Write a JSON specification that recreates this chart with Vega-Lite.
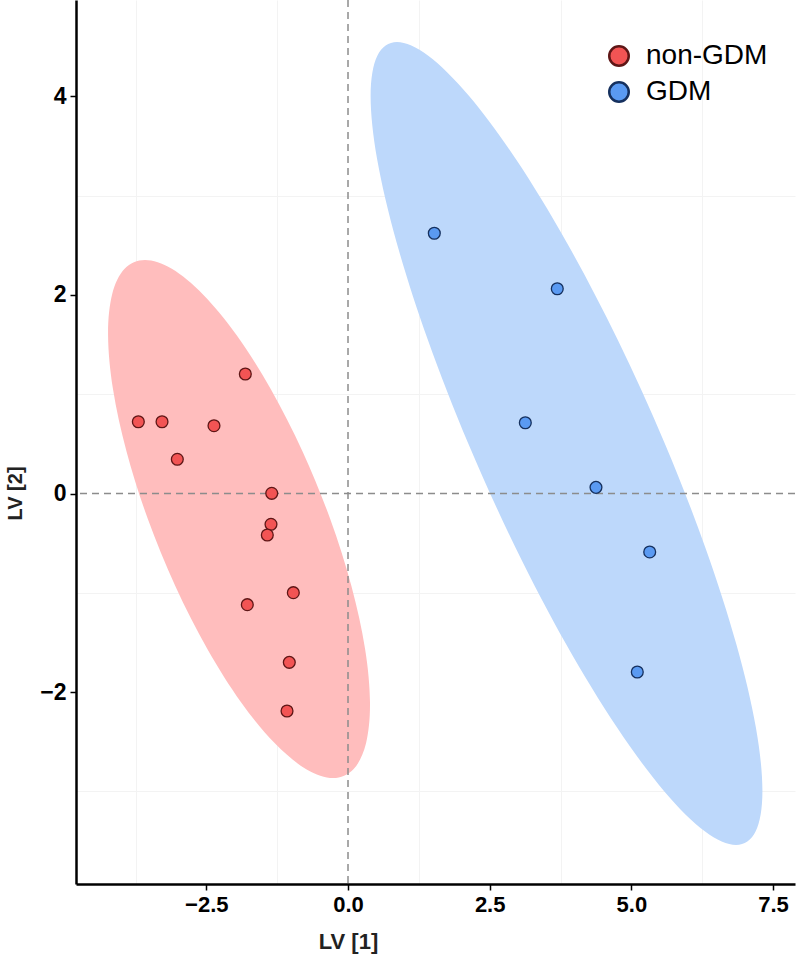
{
  "$schema": "https://vega.github.io/schema/vega-lite/v6.json",
  "width": 719,
  "height": 884,
  "autosize": {"type": "none"},
  "padding": {"left": 76, "top": 0, "right": 2, "bottom": 77},
  "background": "white",
  "config": {"view": {"stroke": null}},
  "datasets": {
    "points": [
      {"group": "non-GDM", "lv1": -1.812, "lv2": 1.204},
      {"group": "non-GDM", "lv1": -3.700, "lv2": 0.723},
      {"group": "non-GDM", "lv1": -3.282, "lv2": 0.723},
      {"group": "non-GDM", "lv1": -2.365, "lv2": 0.683},
      {"group": "non-GDM", "lv1": -3.012, "lv2": 0.345},
      {"group": "non-GDM", "lv1": -1.346, "lv2": 0.002},
      {"group": "non-GDM", "lv1": -1.359, "lv2": -0.310},
      {"group": "non-GDM", "lv1": -1.424, "lv2": -0.418},
      {"group": "non-GDM", "lv1": -0.965, "lv2": -0.999},
      {"group": "non-GDM", "lv1": -1.777, "lv2": -1.120},
      {"group": "non-GDM", "lv1": -1.036, "lv2": -1.701},
      {"group": "non-GDM", "lv1": -1.076, "lv2": -2.191},
      {"group": "GDM", "lv1": 1.523, "lv2": 2.622},
      {"group": "GDM", "lv1": 3.693, "lv2": 2.063},
      {"group": "GDM", "lv1": 3.129, "lv2": 0.713},
      {"group": "GDM", "lv1": 4.376, "lv2": 0.062},
      {"group": "GDM", "lv1": 5.324, "lv2": -0.589},
      {"group": "GDM", "lv1": 5.105, "lv2": -1.798}
    ],
    "ellipse": [
      {"group": "non-GDM", "i": 0, "lv1": -0.314, "lv2": -0.257},
      {"group": "non-GDM", "i": 1, "lv1": 0.060, "lv2": -0.932},
      {"group": "non-GDM", "i": 2, "lv1": 0.300, "lv2": -1.562},
      {"group": "non-GDM", "i": 3, "lv1": 0.388, "lv2": -2.103},
      {"group": "non-GDM", "i": 4, "lv1": 0.318, "lv2": -2.517},
      {"group": "non-GDM", "i": 5, "lv1": 0.096, "lv2": -2.778},
      {"group": "non-GDM", "i": 6, "lv1": -0.264, "lv2": -2.867},
      {"group": "non-GDM", "i": 7, "lv1": -0.737, "lv2": -2.778},
      {"group": "non-GDM", "i": 8, "lv1": -1.291, "lv2": -2.517},
      {"group": "non-GDM", "i": 9, "lv1": -1.888, "lv2": -2.103},
      {"group": "non-GDM", "i": 10, "lv1": -2.487, "lv2": -1.562},
      {"group": "non-GDM", "i": 11, "lv1": -3.048, "lv2": -0.932},
      {"group": "non-GDM", "i": 12, "lv1": -3.532, "lv2": -0.257},
      {"group": "non-GDM", "i": 13, "lv1": -3.906, "lv2": 0.419},
      {"group": "non-GDM", "i": 14, "lv1": -4.146, "lv2": 1.048},
      {"group": "non-GDM", "i": 15, "lv1": -4.234, "lv2": 1.589},
      {"group": "non-GDM", "i": 16, "lv1": -4.164, "lv2": 2.003},
      {"group": "non-GDM", "i": 17, "lv1": -3.942, "lv2": 2.264},
      {"group": "non-GDM", "i": 18, "lv1": -3.582, "lv2": 2.353},
      {"group": "non-GDM", "i": 19, "lv1": -3.109, "lv2": 2.264},
      {"group": "non-GDM", "i": 20, "lv1": -2.555, "lv2": 2.003},
      {"group": "non-GDM", "i": 21, "lv1": -1.958, "lv2": 1.589},
      {"group": "non-GDM", "i": 22, "lv1": -1.359, "lv2": 1.048},
      {"group": "non-GDM", "i": 23, "lv1": -0.798, "lv2": 0.419},
      {"group": "GDM", "i": 0, "lv1": 5.590, "lv2": 0.504},
      {"group": "GDM", "i": 1, "lv1": 6.305, "lv2": -0.543},
      {"group": "GDM", "i": 2, "lv1": 6.853, "lv2": -1.519},
      {"group": "GDM", "i": 3, "lv1": 7.197, "lv2": -2.356},
      {"group": "GDM", "i": 4, "lv1": 7.313, "lv2": -2.999},
      {"group": "GDM", "i": 5, "lv1": 7.194, "lv2": -3.403},
      {"group": "GDM", "i": 6, "lv1": 6.847, "lv2": -3.541},
      {"group": "GDM", "i": 7, "lv1": 6.296, "lv2": -3.403},
      {"group": "GDM", "i": 8, "lv1": 5.579, "lv2": -2.999},
      {"group": "GDM", "i": 9, "lv1": 4.745, "lv2": -2.356},
      {"group": "GDM", "i": 10, "lv1": 3.850, "lv2": -1.519},
      {"group": "GDM", "i": 11, "lv1": 2.955, "lv2": -0.543},
      {"group": "GDM", "i": 12, "lv1": 2.122, "lv2": 0.504},
      {"group": "GDM", "i": 13, "lv1": 1.407, "lv2": 1.551},
      {"group": "GDM", "i": 14, "lv1": 0.859, "lv2": 2.527},
      {"group": "GDM", "i": 15, "lv1": 0.515, "lv2": 3.364},
      {"group": "GDM", "i": 16, "lv1": 0.399, "lv2": 4.007},
      {"group": "GDM", "i": 17, "lv1": 0.518, "lv2": 4.411},
      {"group": "GDM", "i": 18, "lv1": 0.865, "lv2": 4.549},
      {"group": "GDM", "i": 19, "lv1": 1.416, "lv2": 4.411},
      {"group": "GDM", "i": 20, "lv1": 2.133, "lv2": 4.007},
      {"group": "GDM", "i": 21, "lv1": 2.967, "lv2": 3.364},
      {"group": "GDM", "i": 22, "lv1": 3.862, "lv2": 2.527},
      {"group": "GDM", "i": 23, "lv1": 4.757, "lv2": 1.551}
    ],
    "zeroX": [{"lv1": 0}],
    "zeroY": [{"lv2": 0}]
  },
  "layer": [
    {
      "data": {"name": "ellipse"},
      "transform": [{"filter": "datum.group == 'non-GDM'"}],
      "mark": {"type": "line", "fill": "#FFBDBD", "stroke": null, "strokeWidth": 0, "interpolate": "cardinal-closed"},
      "encoding": {
        "x": {"field": "lv1", "type": "quantitative", "scale": {"domain": [-4.8, 7.888], "nice": false, "zero": false}},
        "y": {"field": "lv2", "type": "quantitative", "scale": {"domain": [-3.934, 4.972], "nice": false, "zero": false}},
        "order": {"field": "i", "type": "quantitative"}
      }
    },
    {
      "data": {"name": "ellipse"},
      "transform": [{"filter": "datum.group == 'GDM'"}],
      "mark": {"type": "line", "fill": "#BDD8FB", "stroke": null, "strokeWidth": 0, "interpolate": "cardinal-closed"},
      "encoding": {
        "x": {"field": "lv1", "type": "quantitative", "scale": {"domain": [-4.8, 7.888], "nice": false, "zero": false}},
        "y": {"field": "lv2", "type": "quantitative", "scale": {"domain": [-3.934, 4.972], "nice": false, "zero": false}},
        "order": {"field": "i", "type": "quantitative"}
      }
    },
    {
      "data": {"name": "zeroX"},
      "mark": {"type": "rule", "color": "#8c8c8c", "strokeWidth": 1.5, "strokeDash": [7, 5]},
      "encoding": {
        "x": {"field": "lv1", "type": "quantitative", "scale": {"domain": [-4.8, 7.888], "nice": false, "zero": false}}
      }
    },
    {
      "data": {"name": "zeroY"},
      "mark": {"type": "rule", "color": "#8c8c8c", "strokeWidth": 1.5, "strokeDash": [7, 5]},
      "encoding": {
        "y": {"field": "lv2", "type": "quantitative", "scale": {"domain": [-3.934, 4.972], "nice": false, "zero": false}}
      }
    },
    {
      "data": {"name": "points"},
      "mark": {"type": "point", "filled": true, "shape": "circle", "size": 140, "strokeWidth": 1.3, "opacity": 1},
      "encoding": {
        "x": {
          "field": "lv1", "type": "quantitative",
          "scale": {"domain": [-4.8, 7.888], "nice": false, "zero": false},
          "axis": {
            "title": "LV [1]",
            "values": [-3.75, -2.5, -1.25, 0, 1.25, 2.5, 3.75, 5, 6.25, 7.5],
            "labelExpr": "abs(datum.value % 2.5) < 0.001 ? format(datum.value, '.1f') : ''",
            "grid": true,
            "gridColor": {"condition": {"test": "abs(datum.value % 2.5) < 0.001", "value": "transparent"}, "value": "#f3f3f3"},
            "gridWidth": 1,
            "tickColor": {"condition": {"test": "abs(datum.value % 2.5) < 0.001", "value": "black"}, "value": "transparent"},
            "tickSize": 6,
            "tickWidth": 1.5,
            "domainColor": "black",
            "domainWidth": 2.5,
            "labelFont": "Liberation Sans",
            "labelFontSize": 22,
            "labelFontWeight": "bold",
            "labelColor": "black",
            "labelPadding": 4,
            "labelFlush": false,
            "labelOverlap": false,
            "titleFont": "Liberation Sans",
            "titleFontSize": 22,
            "titleFontWeight": "bold",
            "titleColor": "#222222",
            "titleX": 272,
            "titleY": 47,
            "titleBaseline": "top",
            "titleAlign": "center"
          }
        },
        "y": {
          "field": "lv2", "type": "quantitative",
          "scale": {"domain": [-3.934, 4.972], "nice": false, "zero": false},
          "axis": {
            "title": "LV [2]",
            "values": [-3, -2, -1, 0, 1, 2, 3, 4],
            "labelExpr": "abs(datum.value % 2) < 0.001 ? format(datum.value, 'd') : ''",
            "grid": true,
            "gridColor": {"condition": {"test": "abs(datum.value % 2) < 0.001", "value": "transparent"}, "value": "#f3f3f3"},
            "gridWidth": 1,
            "tickColor": {"condition": {"test": "abs(datum.value % 2) < 0.001", "value": "black"}, "value": "transparent"},
            "tickSize": 6,
            "tickWidth": 1.5,
            "domainColor": "black",
            "domainWidth": 2.5,
            "labelFont": "Liberation Sans",
            "labelFontSize": 23,
            "labelFontWeight": "bold",
            "labelColor": "black",
            "labelPadding": 4,
            "labelOverlap": false,
            "titleFont": "Liberation Sans",
            "titleFontSize": 20,
            "titleFontWeight": "bold",
            "titleColor": "#222222",
            "titleX": -61,
            "titleY": 493,
            "titleAngle": -90,
            "titleAlign": "center",
            "titleBaseline": "middle"
          }
        },
        "fill": {
          "field": "group", "type": "nominal",
          "scale": {"domain": ["non-GDM", "GDM"], "range": ["#F25454", "#5A9AF2"]},
          "legend": {
            "orient": "none",
            "legendX": 529,
            "legendY": 42,
            "title": null,
            "padding": 0,
            "symbolType": "circle",
            "symbolSize": 380,
            "symbolStrokeColor": "black",
            "symbolStrokeWidth": 2.5,
            "symbolOpacity": 1,
            "labelFont": "Liberation Sans",
            "labelFontSize": 28,
            "labelColor": "black",
            "labelOffset": 13,
            "rowPadding": 6
          }
        },
        "stroke": {
          "field": "group", "type": "nominal",
          "scale": {"domain": ["non-GDM", "GDM"], "range": ["#5E1616", "#15305E"]},
          "legend": null
        }
      }
    }
  ]
}
